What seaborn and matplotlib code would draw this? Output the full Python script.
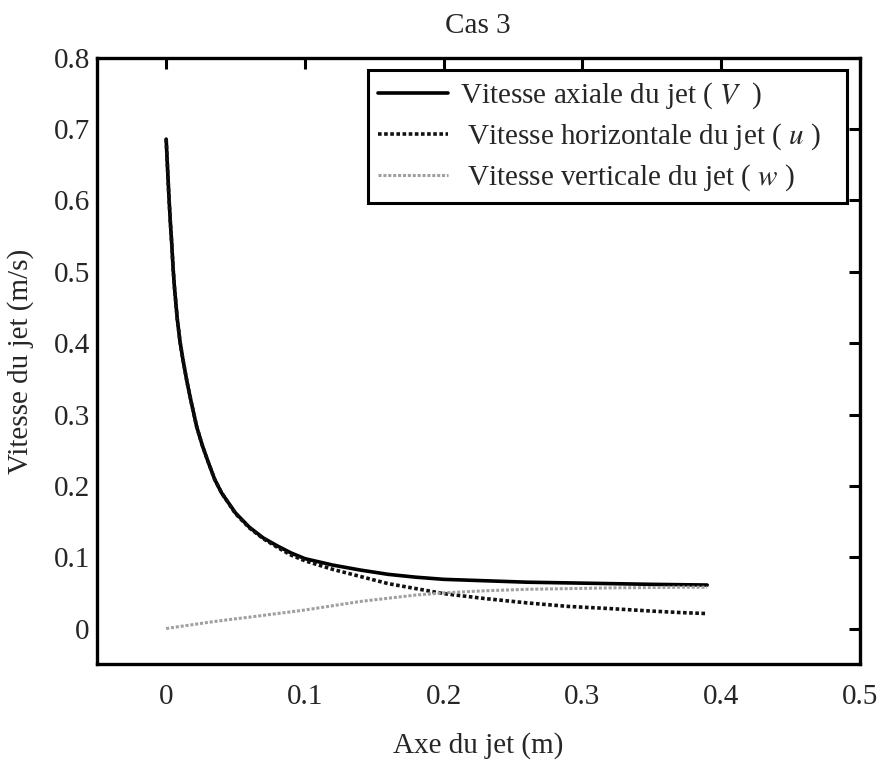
import numpy as np
import pandas as pd
import matplotlib
matplotlib.use("Agg")
import matplotlib.pyplot as plt
import seaborn as sns

# Values (x in m, velocities in m/s)
x_pos = [0.000, 0.001, 0.002, 0.003, 0.004, 0.005, 0.006, 0.008, 0.010, 0.012,
         0.015, 0.018, 0.022, 0.026, 0.030, 0.035, 0.040, 0.050, 0.060, 0.070,
         0.080, 0.090, 0.100, 0.120, 0.140, 0.160, 0.180, 0.200, 0.230, 0.260,
         0.290, 0.320, 0.350, 0.370, 0.390]
v_axial = [0.686, 0.645, 0.605, 0.570, 0.540, 0.505, 0.478, 0.434, 0.402, 0.378,
           0.346, 0.318, 0.283, 0.257, 0.235, 0.209, 0.190, 0.162, 0.142, 0.127,
           0.116, 0.106, 0.098, 0.089, 0.082, 0.076, 0.072, 0.069, 0.067, 0.065,
           0.064, 0.063, 0.062, 0.0615, 0.061]
u_horiz = [0.686, 0.645, 0.605, 0.570, 0.540, 0.505, 0.478, 0.434, 0.402, 0.378,
           0.346, 0.318, 0.283, 0.257, 0.235, 0.209, 0.190, 0.161, 0.141, 0.126,
           0.114, 0.103, 0.095, 0.083, 0.073, 0.063, 0.056, 0.049, 0.042, 0.036,
           0.031, 0.028, 0.0245, 0.0225, 0.021]
w_vert = [0.000, 0.0003, 0.0006, 0.0009, 0.0012, 0.0015, 0.0018, 0.0024, 0.003,
          0.0035, 0.0043, 0.0052, 0.0063, 0.0075, 0.0086, 0.0099, 0.0112, 0.0137,
          0.016, 0.0185, 0.021, 0.0235, 0.026, 0.032, 0.038, 0.0425, 0.047,
          0.050, 0.053, 0.055, 0.056, 0.057, 0.0575, 0.058, 0.058]

x_ticks = [0, 0.1, 0.2, 0.3, 0.4, 0.5]
y_ticks = [0, 0.1, 0.2, 0.3, 0.4, 0.5, 0.6, 0.7, 0.8]
x_tick_labels = ["0", "0.1", "0.2", "0.3", "0.4", "0.5"]
y_tick_labels = ["0", "0.1", "0.2", "0.3", "0.4", "0.5", "0.6", "0.7", "0.8"]

sns.set_style("white")
plt.rcParams["font.family"] = ["Liberation Serif", "DejaVu Serif"]
plt.rcParams["mathtext.fontset"] = "stix"

df = pd.DataFrame({"x": x_pos, "V": v_axial, "u": u_horiz, "w": w_vert})

fig = plt.figure(figsize=(8.8, 7.6), dpi=100)
ax = fig.add_axes([0.110, 0.126, 0.867, 0.798])

sns.lineplot(data=df, x="x", y="V", ax=ax, color="black", linewidth=2.6,
             sort=False, estimator=None,
             label="Vitesse axiale du jet ( $V$  )   ")
sns.lineplot(data=df, x="x", y="u", ax=ax, color="#111111", linewidth=2.6,
             linestyle=(0, (1, 0.7)), sort=False, estimator=None,
             label=" Vitesse horizontale du jet ( $u$ )   ")
sns.lineplot(data=df, x="x", y="w", ax=ax, color="#a0a0a0", linewidth=2.2,
             linestyle=(0, (1, 0.6)), sort=False, estimator=None,
             label=" Vitesse verticale du jet ( $w$ )   ")

ax.set_xlim(-0.05, 0.5)
ax.set_ylim(-0.05, 0.8)
ax.set_xticks(x_ticks)
ax.set_xticklabels(x_tick_labels)
ax.set_yticks(y_ticks)
ax.set_yticklabels(y_tick_labels)
ax.tick_params(direction="in", length=8, width=2.2, labelsize=21,
               top=True, right=True, color="black")
ax.tick_params(axis="x", pad=14)
ax.tick_params(axis="y", pad=5)
for sp in ax.spines.values():
    sp.set_linewidth(2.4)
    sp.set_color("black")

ax.set_xlabel("Axe du jet (m)", fontsize=21, labelpad=16)
ax.set_ylabel("Vitesse du jet (m/s)", fontsize=21, labelpad=14)
ax.set_title("Cas 3", fontsize=21, pad=18)

leg = ax.legend(loc="upper right", bbox_to_anchor=(0.983, 0.979), fontsize=21,
                frameon=True, fancybox=False, edgecolor="black", framealpha=1,
                handlelength=2.4, handletextpad=0.4, borderpad=0.35,
                labelspacing=0.35, borderaxespad=0)
leg.get_frame().set_linewidth(2.2)

fig.savefig("out.png", dpi=100, facecolor="white")
